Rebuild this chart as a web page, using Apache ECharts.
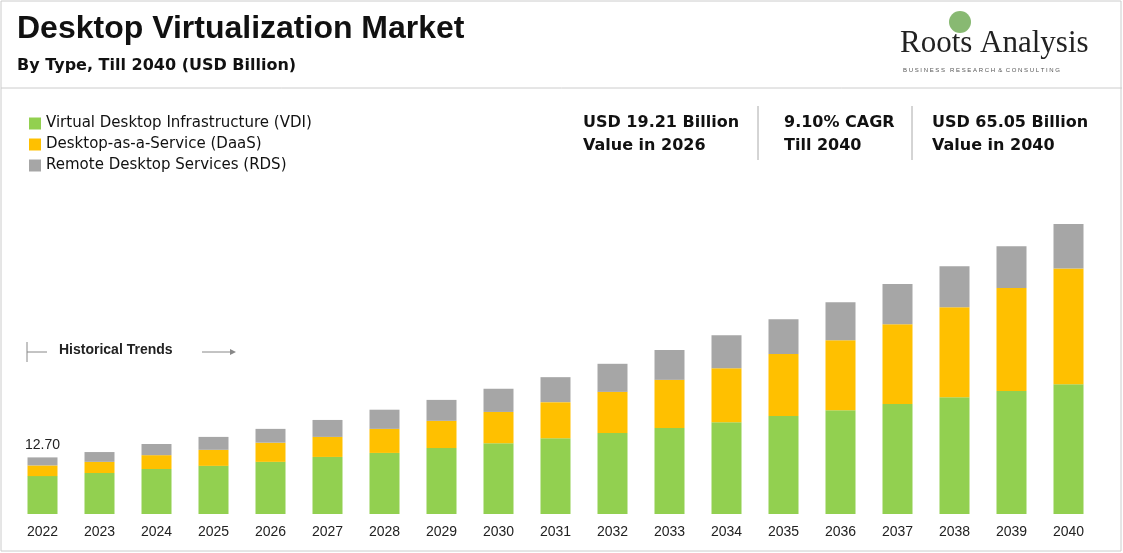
<!DOCTYPE html>
<html><head><meta charset="utf-8">
<script src="https://cdn.jsdelivr.net/npm/echarts@6/dist/echarts.min.js"></script>
<style>html,body{margin:0;padding:0;background:#fff}#c{width:1123px;height:553px}</style>
</head><body><div id="c"></div>
<script>
const years=['2022','2023','2024','2025','2026','2027','2028','2029','2030','2031','2032','2033','2034','2035','2036','2037','2038','2039','2040'];
const vdi=[8.5,9.2,10.1,10.8,11.7,12.8,13.7,14.8,15.9,17.0,18.2,19.3,20.6,22.0,23.3,24.7,26.2,27.6,29.1];
const daas=[2.4,2.5,3.1,3.6,4.3,4.5,5.4,6.1,7.0,8.1,9.2,10.8,12.1,13.9,15.7,17.9,20.2,23.1,26.0];
const rds=[1.8,2.2,2.5,2.9,3.1,3.8,4.3,4.7,5.2,5.6,6.3,6.7,7.4,7.8,8.5,9.0,9.2,9.4,9.95];
const firstLabel='12.70';
const F='Arial, "Liberation Sans", sans-serif';
const D='"DejaVu Sans", sans-serif';
const ch=echarts.init(document.getElementById('c'));
const mk=(name,data,color,top)=>({name,type:'bar',stack:'a',data,barWidth:30,itemStyle:{color},
  label:top?{show:true,position:'top',formatter:p=>p.dataIndex===0?firstLabel:'',color:'#222',fontSize:14,fontFamily:F}:{show:false}});
ch.setOption({
  animation:false,
  grid:{left:14,right:26,top:202,bottom:39},
  xAxis:{type:'category',data:years,axisTick:{show:false},axisLine:{show:false},
    axisLabel:{color:'#222',fontSize:14,fontFamily:F,margin:11}},
  yAxis:{type:'value',min:0,max:70,show:false,splitLine:{show:false}},
  legend:{orient:'vertical',left:24,top:111,itemWidth:12,itemHeight:12,itemGap:6,icon:'rect',
    textStyle:{fontSize:15,fontFamily:D,color:'#111'},data:['Virtual Desktop Infrastructure (VDI)','Desktop-as-a-Service (DaaS)','Remote Desktop Services (RDS)']},
  series:[mk('Virtual Desktop Infrastructure (VDI)',vdi,'#92d050'),mk('Desktop-as-a-Service (DaaS)',daas,'#ffc000'),mk('Remote Desktop Services (RDS)',rds,'#a6a6a6',true)],
  graphic:[
    {type:'rect',shape:{x:1,y:1,width:1120,height:550},style:{fill:'none',stroke:'#ccc',lineWidth:1}},
    {type:'line',shape:{x1:1,y1:88,x2:1122,y2:88},style:{stroke:'#ccc',lineWidth:1}},
    {type:'text',left:17,top:13,style:{text:'Desktop Virtualization Market',font:'bold 32px '+F,fill:'#111'}},
    {type:'text',left:17,top:58,style:{text:'By Type, Till 2040 (USD Billion)',font:'bold 16px '+D,fill:'#111'}},
    {type:'text',left:900,top:28,style:{text:'Roots Analysis',font:'31px "Liberation Serif", serif',fill:'#222'}},
    {type:'text',left:903,top:67,style:{text:'B U S I N E S S   R E S E A R C H  &  C O N S U L T I N G',font:'6px '+F,fill:'#555'}},
    {type:'circle',shape:{cx:960,cy:22,r:11},style:{fill:'#6aa84f',opacity:0.8}},
    {type:'text',left:583,top:111,style:{text:'USD 19.21 Billion\nValue in 2026',font:'bold 16px '+D,fill:'#111',lineHeight:23}},
    {type:'text',left:784,top:111,style:{text:'9.10% CAGR\nTill 2040',font:'bold 16px '+D,fill:'#111',lineHeight:23}},
    {type:'text',left:932,top:111,style:{text:'USD 65.05 Billion\nValue in 2040',font:'bold 16px '+D,fill:'#111',lineHeight:23}},
    {type:'line',shape:{x1:758,y1:106,x2:758,y2:160},style:{stroke:'#aaa',lineWidth:1}},
    {type:'line',shape:{x1:912,y1:106,x2:912,y2:160},style:{stroke:'#aaa',lineWidth:1}},
    {type:'line',shape:{x1:27,y1:342,x2:27,y2:362},style:{stroke:'#888',lineWidth:1}},
    {type:'line',shape:{x1:27,y1:352,x2:47,y2:352},style:{stroke:'#888',lineWidth:1}},
    {type:'text',left:59,top:343,style:{text:'Historical Trends',font:'bold 14px '+F,fill:'#222'}},
    {type:'line',shape:{x1:202,y1:352,x2:234,y2:352},style:{stroke:'#888',lineWidth:1}},
    {type:'polygon',shape:{points:[[236,352],[230,349],[230,355]]},style:{fill:'#888'}}
  ]
});
</script></body></html>
